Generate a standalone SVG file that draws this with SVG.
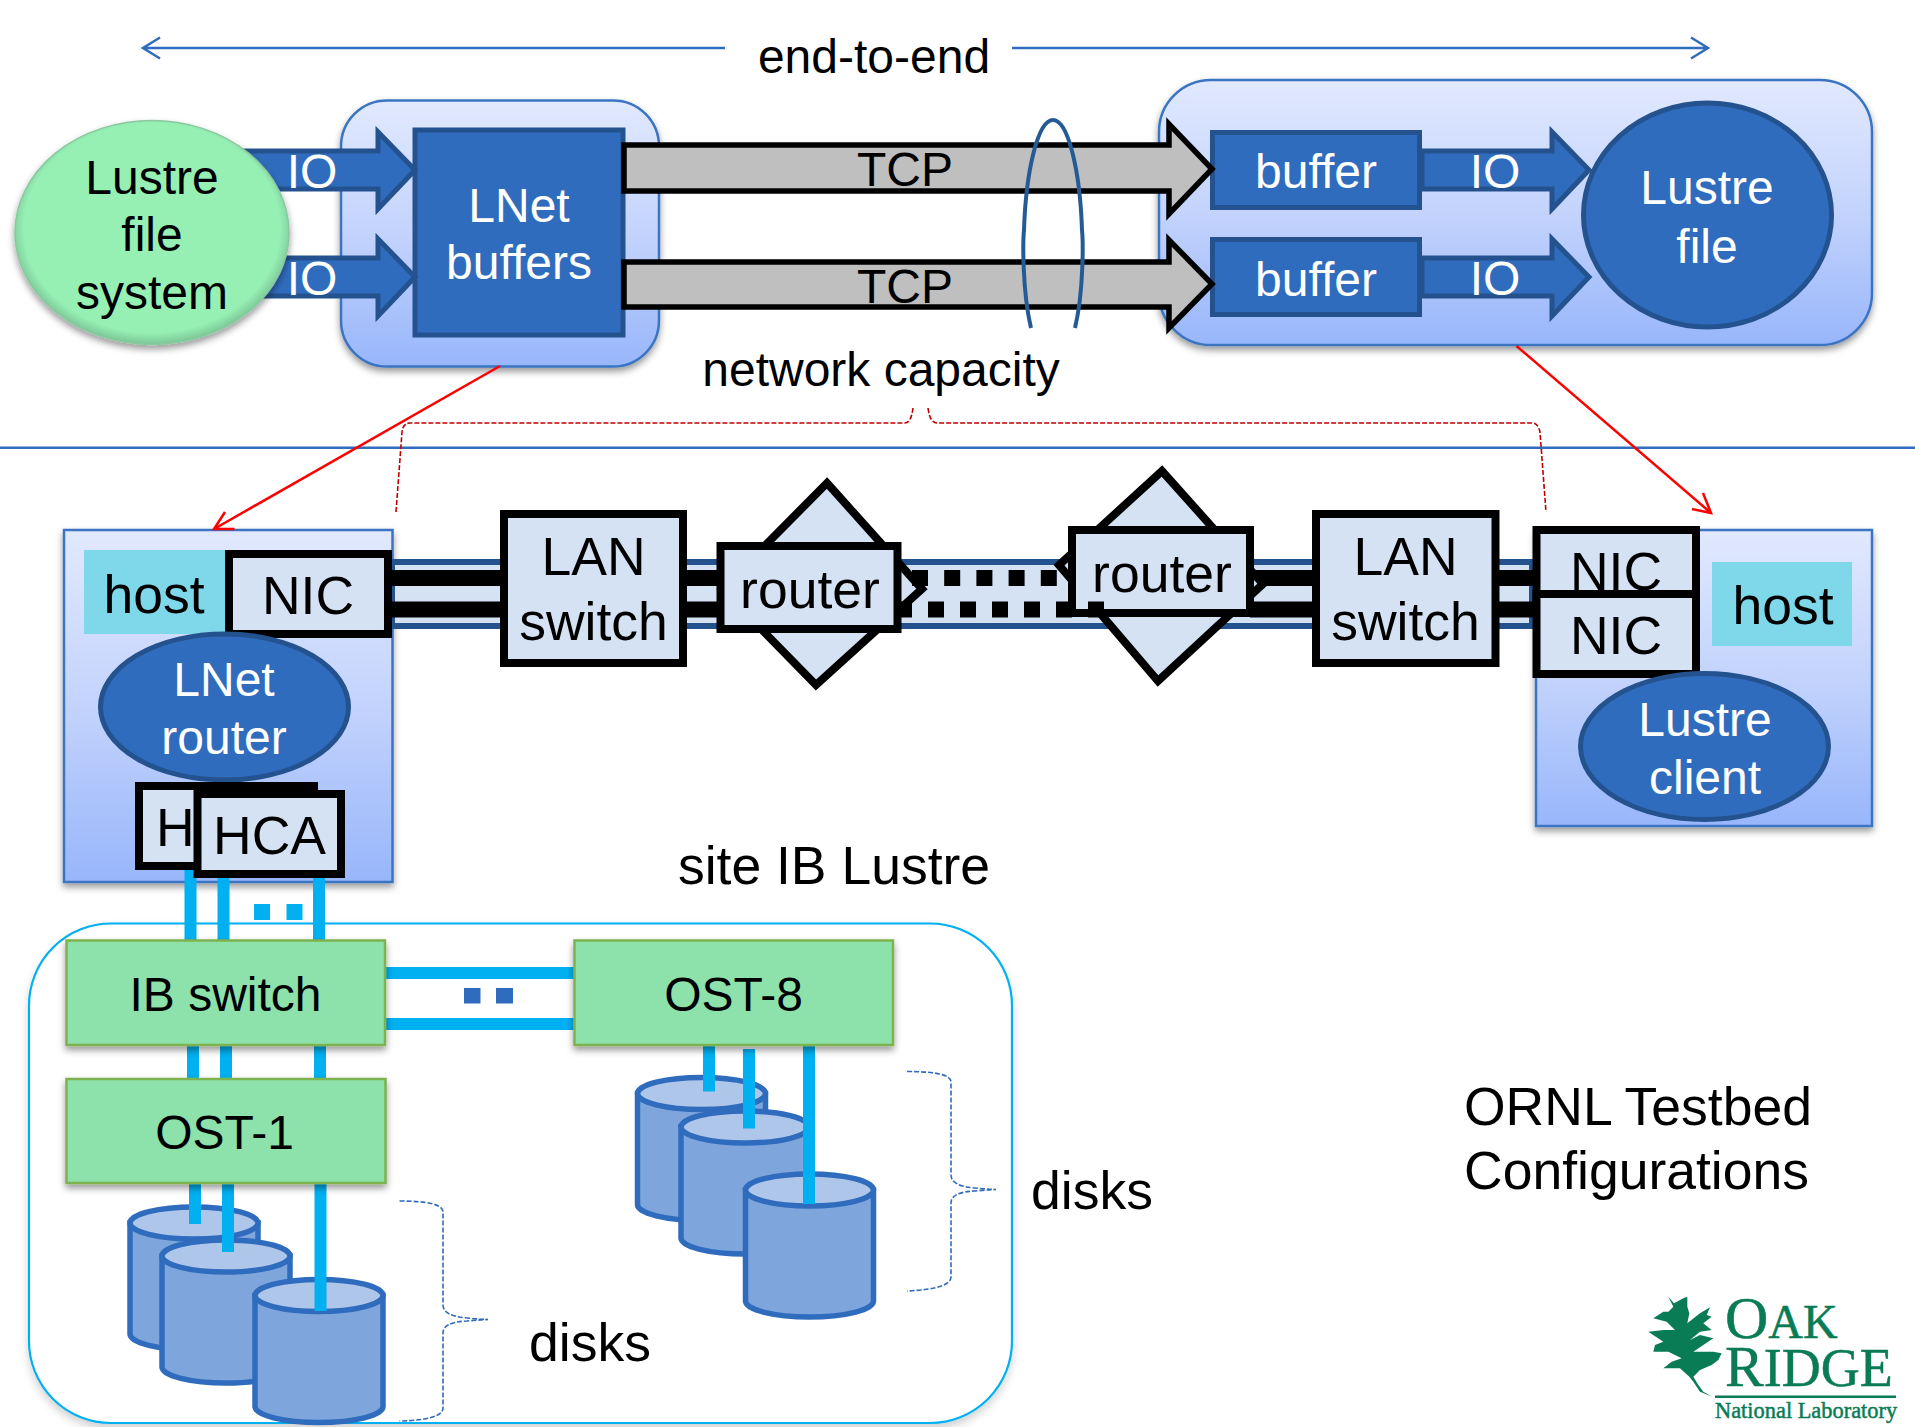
<svg xmlns="http://www.w3.org/2000/svg" width="1915" height="1427" viewBox="0 0 1915 1427">
<style>
text{font-family:"Liberation Sans",Arial,sans-serif;fill:#000;text-anchor:middle}
.f48{font-size:48px}.f53{font-size:53.5px}
.w{fill:#fff}.s{text-anchor:start}
.cont{fill:url(#g1);stroke:#3a74c2;stroke-width:2.5}
.blue{fill:#306cbd;stroke:#24528f;stroke-width:5}
.lite{fill:#d5e2f3;stroke:#000;stroke-width:8}
.grn{fill:#8de2ab;stroke:#7db24f;stroke-width:2.5}
.cab{stroke:#00b0f0;fill:none}
.tcp{fill:#bfbfbf;stroke:#000;stroke-width:5.5;stroke-miterlimit:10}
.brace{fill:none;stroke:#306cbd;stroke-width:1.6;stroke-dasharray:5 2}
.red{fill:none;stroke:#f00;stroke-width:2.5}
.rd{fill:none;stroke:#c00000;stroke-width:1.6;stroke-dasharray:5 2}
.ln{fill:none;stroke:#306cbd;stroke-width:2.5}
.leaf{fill:#0a7c55}
.logo{font-family:"Liberation Serif","Times New Roman",serif;fill:#0a7c55;text-anchor:start;stroke:#0a7c55;stroke-width:.5}
</style>
<defs>
<linearGradient id="g1" x1="0" y1="0" x2="0" y2="1"><stop offset="0" stop-color="#e1e9fe"/><stop offset=".5" stop-color="#c3d3fc"/><stop offset="1" stop-color="#98b6fb"/></linearGradient>
<radialGradient id="g2" cx=".5" cy=".48" r=".52"><stop offset="0" stop-color="#96f0b4"/><stop offset=".9" stop-color="#96f0b4"/><stop offset="1" stop-color="#7bc596"/></radialGradient>
<filter id="sh" x="-10%" y="-10%" width="120%" height="125%"><feDropShadow dx="0" dy="4" stdDeviation="3.5" flood-color="#000" flood-opacity=".4"/></filter>
<filter id="sh2" x="-10%" y="-10%" width="120%" height="120%"><feDropShadow dx="0" dy="5" stdDeviation="4" flood-color="#000" flood-opacity=".18"/></filter>
<g id="cyl"><path d="M-64 0V111A64 16 0 0 0 64 111V0Z" fill="#7ea6dc" stroke="#306cbd" stroke-width="5.5"/><ellipse cx="0" cy="0" rx="64" ry="16" fill="#aec6ea" stroke="#306cbd" stroke-width="5.5"/></g>
</defs>
<rect width="1915" height="1427" fill="#fff"/>

<g id="site-ib-lustre"><rect x="29" y="923.5" width="983" height="499.5" rx="82" ry="82" fill="#fff" stroke="#00b0f0" stroke-width="2.2" filter="url(#sh2)"/></g>
<g id="lnet-container"><rect class="cont" x="341" y="100.500" width="318" height="266" rx="46" filter="url(#sh)"/></g>
<g id="server-container"><rect class="cont" x="1159" y="80" width="713" height="265" rx="52" filter="url(#sh)"/></g>
<g id="host-left"><rect class="cont" x="64" y="530" width="328.5" height="352" filter="url(#sh)"/></g>
<g id="host-right"><rect class="cont" x="1536" y="530" width="336" height="296" filter="url(#sh)"/></g>
<g id="disks-1"><use href="#cyl" x="194" y="1223"/><use href="#cyl" x="226" y="1256"/><use href="#cyl" x="319" y="1295.500"/></g>
<g id="disks-8"><use href="#cyl" x="701.500" y="1093.500"/><use href="#cyl" x="745" y="1127"/><use href="#cyl" x="809.5" y="1190"/></g>
<g id="lnet-buffers"><rect class="blue" x="415" y="130" width="208" height="205"/><text class="f48 w" x="519" y="222">LNet</text><text class="f48 w" x="519" y="279">buffers</text></g>
<g id="buffer-1"><rect class="blue" x="1212.500" y="132.500" width="207" height="75"/><text class="f48 w" x="1316" y="188">buffer</text></g>
<g id="buffer-2"><rect class="blue" x="1212.500" y="239.500" width="207" height="75"/><text class="f48 w" x="1316" y="296">buffer</text></g>
<g id="lustre-file"><ellipse class="blue" cx="1707.500" cy="215" rx="124" ry="112"/><text class="f48 w" x="1707" y="204">Lustre</text><text class="f48 w" x="1707" y="263">file</text></g>

<g id="connectors">
<path class="ln" d="M725 48H143M160 37.5L143 48L160 58.5"/>
<path class="ln" d="M1012 48H1708M1691 37.5L1708 48L1691 58.5"/>
<path class="ln" d="M0 447.7H1915" stroke-width="2"/>
<path class="blue" stroke-width="4" d="M235 151H378V132L415 170L378 209V189H235Z"/>
<path class="blue" stroke-width="4" d="M235 258H378V239L415 277L378 316V296H235Z"/>
<path class="blue" d="M1422 151H1552V132L1589 170L1552 209V189H1422Z"/>
<path class="blue" d="M1422 258H1552V239L1589 277L1552 316V296H1422Z"/>
<path class="tcp" d="M624 145H1169V124L1212 169L1169 214V191H624Z"/>
<path class="tcp" d="M624 262H1169V240L1212 284L1169 328V307H624Z"/>
<path d="M1031 328C1022 290 1023 240 1024 230C1026 170 1038 120 1053 120C1068 120 1080 170 1082 230C1083 240 1084 290 1075 328" fill="none" stroke="#255b95" stroke-width="4"/>
<path class="red" d="M500 366L214 529M225 512L214 529L234.500 529"/>
<path class="red" d="M1516.500 346L1711 513M1692 509L1711 513L1703 493"/>
<path class="rd" d="M396 512L402 432Q403 423 410 423H905Q911 423 913 408"/>
<path class="rd" d="M928 408Q930 423 937 423H1532Q1538 423 1540 432L1546 512"/>
<rect x="392" y="562" width="1140" height="64" fill="#d5e2f3" stroke="#24528f" stroke-width="6"/>
<path d="M392 578H725M392 609.500H725M1250 578H1535M1250 609.500H1535" stroke="#000" stroke-width="16" fill="none"/>
<path class="cab" stroke-width="12" d="M190.500 868V940M223.500 872V940M319 875V940"/>
<path d="M254 904h16v16h-16zM286.500 904h16v16h-16z" fill="#00b0f0"/>
<path d="M385 973H574M385 1024H574" class="cab" stroke-width="12"/>
<path d="M464 988h16.500v15.500h-16.500zM496 988h17v15.500h-17z" fill="#306cbd"/>
<path class="cab" stroke-width="12" d="M193 1045V1079M226 1045V1079M320 1045V1079M195 1183V1224M228 1183V1252M320.500 1183V1311"/>
<path class="cab" stroke-width="12" d="M709 1045V1091.500M749 1049V1128.500M809 1045V1204"/>
<path class="brace" d="M399.500 1201Q443 1201 443 1212V1305Q443 1316 467 1318Q478 1319 488 1319.500Q478 1320 467 1321Q443 1322 443 1333V1408Q443 1420 399.500 1421"/>
<path class="brace" d="M907 1071.500Q951 1071.500 951 1082V1175Q951 1186 975 1188Q986 1189 996 1189.500Q986 1190 975 1191Q951 1192 951 1203V1277Q951 1289 907 1291"/>
</g>

<g id="io-labels">
<text class="f48 w" x="312" y="188">IO</text>
<text class="f48 w" x="312" y="295">IO</text>
<text class="f48 w" x="1495" y="188">IO</text>
<text class="f48 w" x="1495" y="295">IO</text>
<text class="f48" x="905" y="186">TCP</text>
<text class="f48" x="905" y="303">TCP</text>
</g>

<g id="lustre-file-system"><ellipse cx="152" cy="232.500" rx="137" ry="112" fill="url(#g2)" stroke="#8ac9a0" stroke-width="1.5" filter="url(#sh)"/>
<text class="f48" x="152" y="194">Lustre</text><text class="f48" x="152" y="251">file</text><text class="f48" x="152" y="309">system</text></g>

<g id="host-label-left"><rect x="84" y="550" width="141" height="84" fill="#7fd7ea"/><text class="f53" x="154" y="613">host</text></g>
<g id="nic-left"><rect class="lite" x="229" y="554" width="159" height="80"/><text class="f53" x="308" y="614">NIC</text></g>
<g id="lnet-router"><ellipse class="blue" cx="224.500" cy="707" rx="124" ry="73"/><text class="f48 w" x="224" y="696">LNet</text><text class="f48 w" x="224" y="754">router</text></g>
<g id="hca-back"><rect class="lite" x="139" y="786" width="175" height="80"/><text class="f53 s" x="156" y="846">HCA</text></g>
<g id="hca-front"><rect class="lite" x="197.500" y="794" width="143.500" height="80"/><text class="f53" x="269.500" y="854">HCA</text></g>

<g id="lan-switch-1"><rect class="lite" x="504" y="514" width="179" height="149"/><text class="f53" x="593.500" y="575">LAN</text><text class="f53" x="593.500" y="640">switch</text></g>
<g id="router-1"><path class="lite" stroke-miterlimit="10" d="M827 483L922 589L816 685L722 589Z"/><rect class="lite" x="720.500" y="546" width="177" height="83"/><text class="f53" x="810" y="608">router</text></g>
<g id="router-2"><path class="lite" stroke-miterlimit="10" d="M1162 471L1263 584L1158 681L1059 565Z"/><rect class="lite" x="1072" y="530" width="178" height="83"/><text class="f53" x="1162" y="592">router</text></g>
<g id="wan-dashes" stroke="#000" stroke-width="16" fill="none"><path d="M912 578H1060" stroke-dasharray="16 16.200"/><path d="M900 609.500H912M928 609.500H1104" stroke-dasharray="16 16"/></g>
<g id="lan-switch-2"><rect class="lite" x="1316" y="514" width="179.500" height="149"/><text class="f53" x="1405.500" y="575">LAN</text><text class="f53" x="1405.500" y="640">switch</text></g>
<g id="nic-right-1"><rect class="lite" x="1536.500" y="530" width="159.500" height="80"/><text class="f53" x="1616" y="590">NIC</text></g>
<g id="nic-right-2"><rect class="lite" x="1536.500" y="594" width="159.500" height="80"/><text class="f53" x="1616" y="654">NIC</text></g>
<g id="host-label-right"><rect x="1712" y="562" width="140" height="84" fill="#7fd7ea"/><text class="f53" x="1783" y="624">host</text></g>
<g id="lustre-client"><ellipse class="blue" cx="1704.500" cy="746.500" rx="124" ry="73"/><text class="f48 w" x="1705" y="736">Lustre</text><text class="f48 w" x="1705" y="794">client</text></g>

<g id="ib-switch"><rect class="grn" x="66.500" y="940.500" width="318.500" height="104.500" filter="url(#sh)"/><text class="f48" x="225.500" y="1011">IB switch</text></g>
<g id="ost-8"><rect class="grn" x="574.500" y="940.500" width="318.500" height="104.500" filter="url(#sh)"/><text class="f48" x="733.500" y="1011">OST-8</text></g>
<g id="ost-1"><rect class="grn" x="66.500" y="1079" width="319" height="104" filter="url(#sh)"/><text class="f48" x="224.500" y="1149">OST-1</text></g>

<g id="labels">
<text class="f48" x="874" y="73">end-to-end</text>
<text class="f48" x="881" y="386">network capacity</text>
<text class="f53" x="834" y="884">site IB Lustre</text>
<text class="f53" x="590" y="1361">disks</text>
<text class="f53" x="1092" y="1209">disks</text>
<text class="f53 s" x="1464" y="1125">ORNL Testbed</text>
<text class="f53 s" x="1464" y="1189">Configurations</text>
</g>

<g id="logo">
<path class="leaf" transform="translate(1600 1270) scale(.3333)" d="M205 80L222 100L250 85L262 80L262 110L268 130L262 160L300 130L330 112L320 135L335 140L310 160L335 180L300 185L270 210L300 195L340 205L310 225L280 245L340 245L365 250L355 270L335 285L300 300L280 320L295 345L310 365L337 380L300 365L280 335L268 320L240 295L190 295L215 275L245 265L205 245L160 245L165 225L190 215L145 185L190 180L225 180L200 155L160 145L190 125L205 125L220 110Z"/>
<text class="logo" x="1725" y="1338"><tspan font-size="60">O</tspan><tspan font-size="48">AK</tspan></text>
<text class="logo" x="1725" y="1386"><tspan font-size="58">R</tspan><tspan font-size="54">IDGE</tspan></text>
<path d="M1715 1396.700H1896" stroke="#0a7c55" stroke-width="2.500"/>
<text class="logo" x="1715" y="1418" font-size="22.400">National Laboratory</text>
</g>
</svg>
